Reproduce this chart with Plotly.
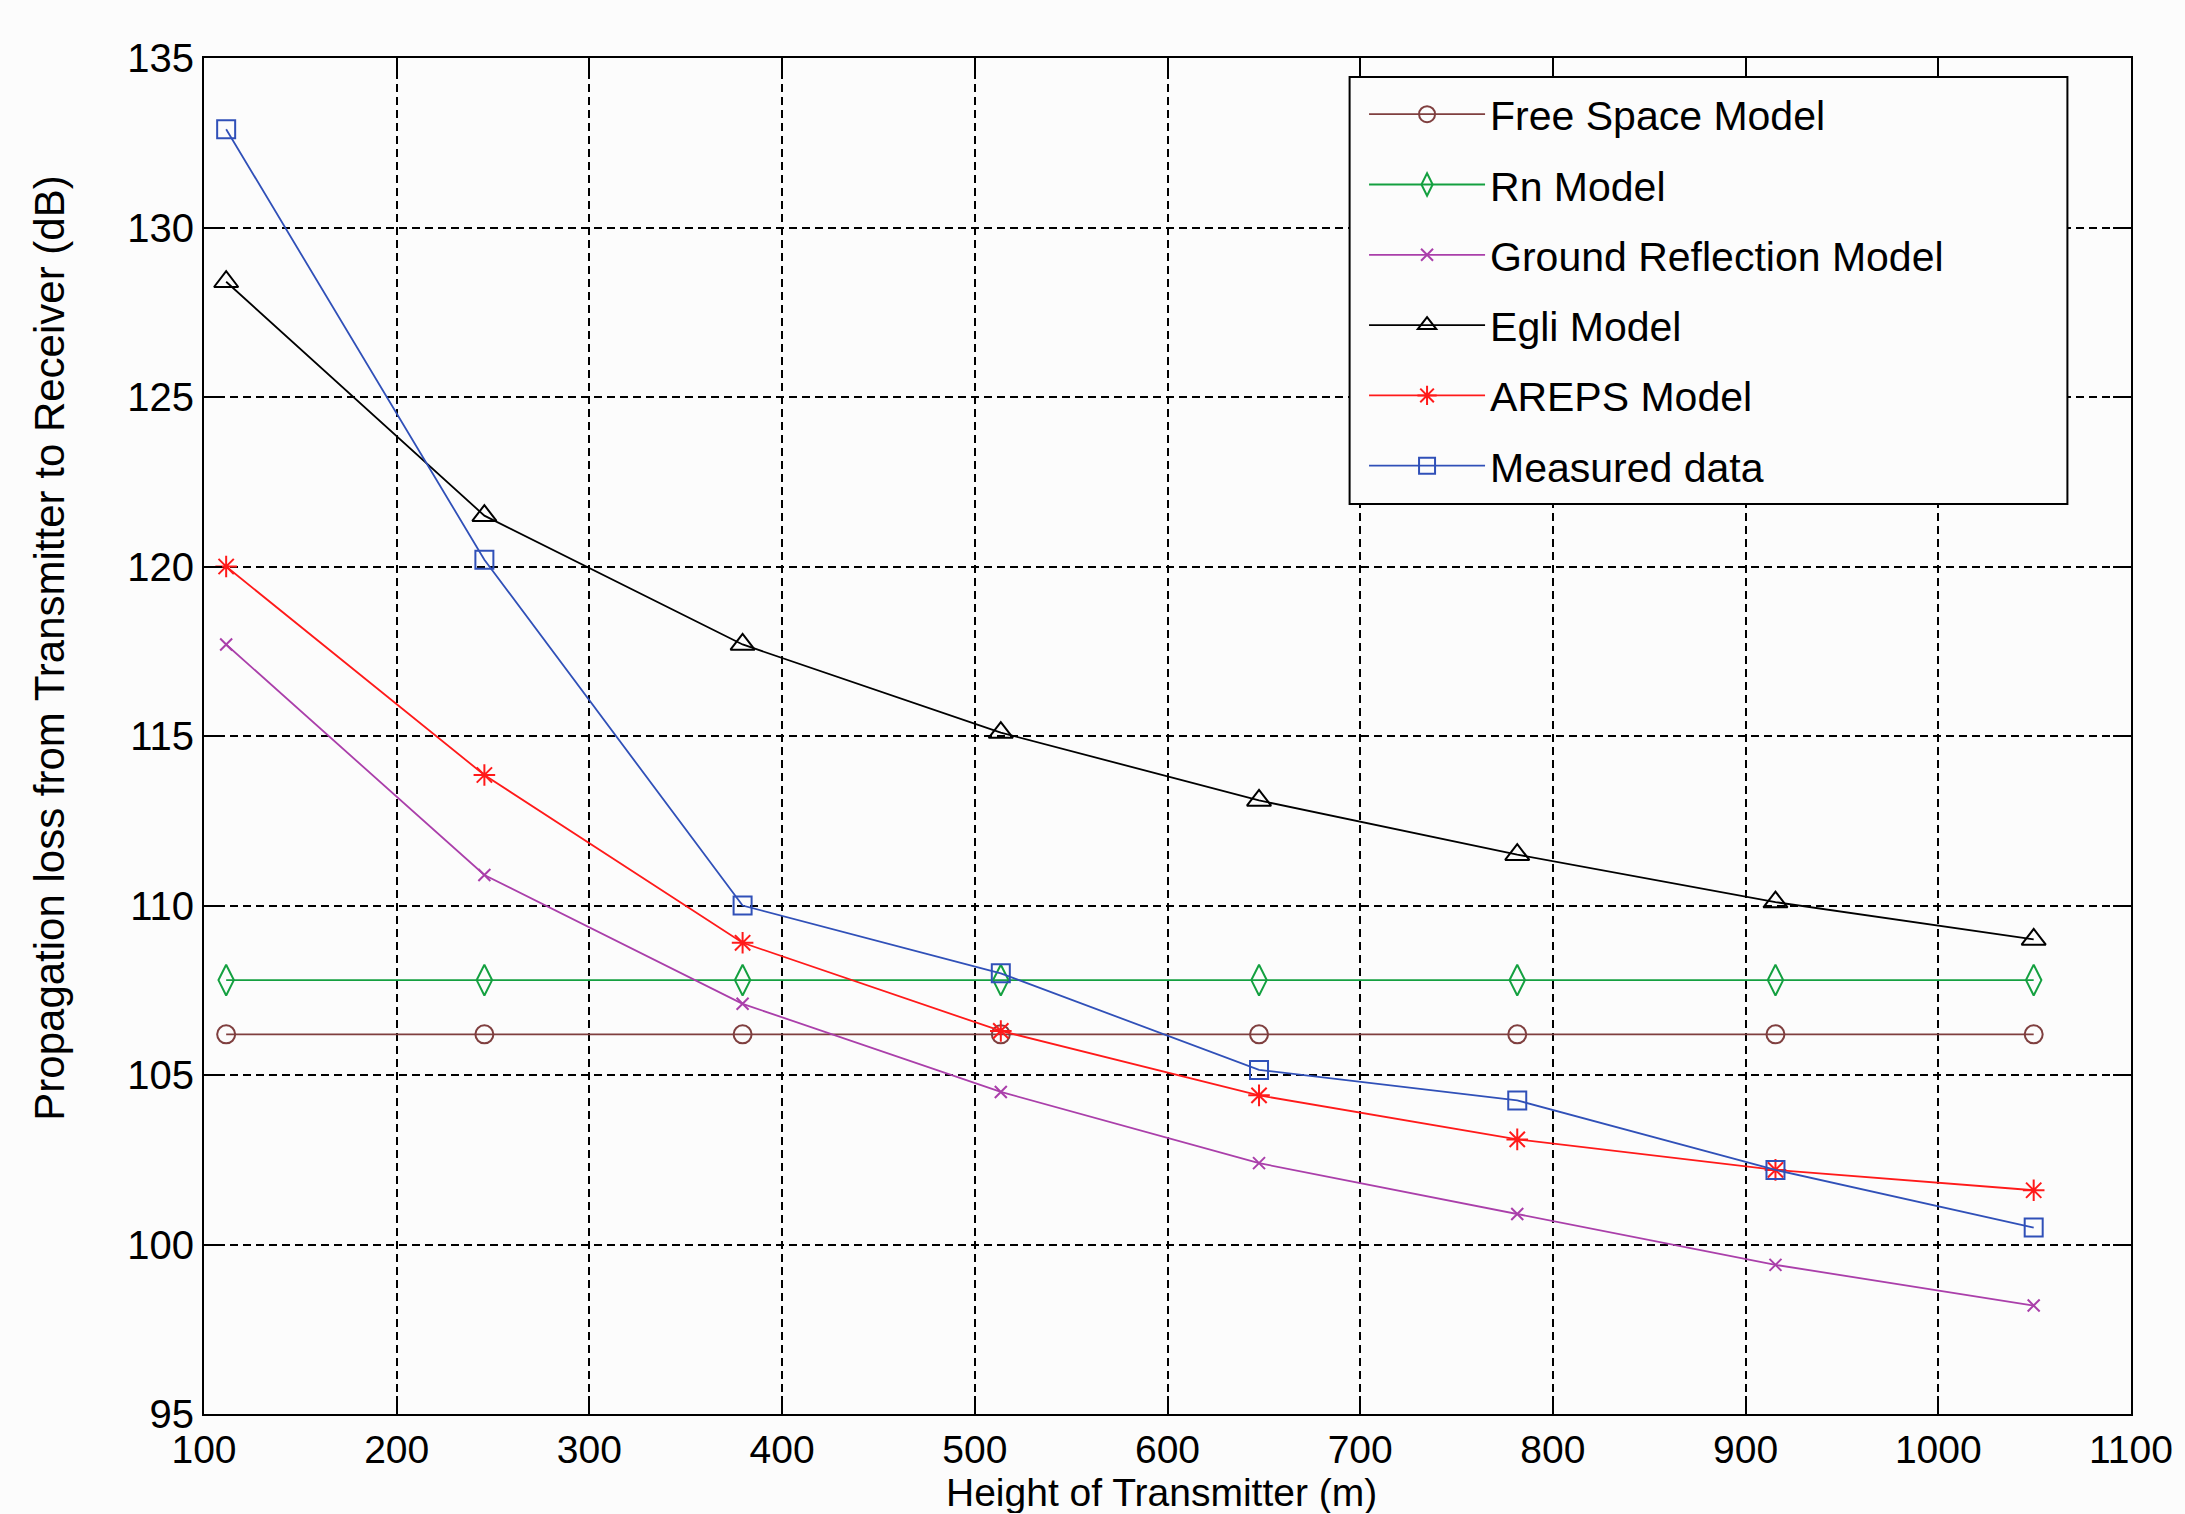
import plotly.graph_objects as go

# ---- data ----
heights = [111.5, 245.5, 379.5, 513.5, 647.5, 781.5, 915.5, 1049.5]
free_space = [106.2, 106.2, 106.2, 106.2, 106.2, 106.2, 106.2, 106.2]
rn_model = [107.8, 107.8, 107.8, 107.8, 107.8, 107.8, 107.8, 107.8]
ground_reflection = [117.7, 110.9, 107.1, 104.5, 102.4, 100.9, 99.4, 98.2]
egli = [128.4, 121.5, 117.7, 115.1, 113.1, 111.5, 110.1, 109.0]
areps = [120.0, 113.85, 108.9, 106.3, 104.4, 103.1, 102.2, 101.6]
measured = [132.9, 120.2, 110.0, 108.0, 105.15, 104.25, 102.2, 100.5]

series_names = ["Free Space Model", "Rn Model", "Ground Reflection Model",
                "Egli Model", "AREPS Model", "Measured data"]
series_values = [free_space, rn_model, ground_reflection, egli, areps, measured]
colors = ["#7f3f3f", "#14a040", "#aa3faa", "#000000", "#ff1a1a", "#3050b8"]
symbols = ["circle-open", "diamond-tall-open", "x-thin-open", "triangle-up-open",
           "asterisk-open", "square-open"]
sizes = [18, 22, 12, 21, 18, 18]

x_ticks = [100, 200, 300, 400, 500, 600, 700, 800, 900, 1000, 1100]
y_ticks = [95, 100, 105, 110, 115, 120, 125, 130, 135]

FONT = "Liberation Sans, Arial, sans-serif"

fig = go.Figure()
for i, (name, vals) in enumerate(zip(series_names, series_values)):
    fig.add_trace(go.Scatter(
        x=heights, y=vals, name=name, mode="lines+markers",
        legendgroup=f"g{i}",
        line=dict(color=colors[i], width=1.8),
        marker=dict(symbol=symbols[i], size=sizes[i], color=colors[i],
                    line=dict(color=colors[i], width=2)),
    ))

axis_common = dict(
    showline=True, linecolor="black", linewidth=2, mirror="ticks",
    ticks="inside", ticklen=18, tickwidth=2, tickcolor="black",
    showgrid=True, gridcolor="black", gridwidth=2, griddash="8px,5px",
    zeroline=False,
)

fig.update_xaxes(range=[100, 1100], tickvals=x_ticks,
                 ticktext=[str(v) for v in x_ticks],
                 tickfont=dict(family=FONT, size=39, color="black"), **axis_common)
fig.update_yaxes(range=[95, 135], tickvals=y_ticks,
                 ticktext=[str(v) for v in y_ticks],
                 tickfont=dict(family=FONT, size=40, color="black"), **axis_common)

# legend frame (plot-area fractions)
fig.add_shape(type="rect", xref="paper", yref="paper",
              x0=0.5945, x1=0.967, y0=0.671, y1=0.986,
              line=dict(color="black", width=2), fillcolor="#fcfcfc",
              layer="above")

fig.update_layout(
    width=2185, height=1514,
    margin=dict(l=204, r=47, t=58, b=100),
    paper_bgcolor="#fcfcfc", plot_bgcolor="#fcfcfc",
    font=dict(family=FONT, color="black"),
    showlegend=True,
    legend=dict(
        x=0.602, y=0.983, xanchor="left", yanchor="top",
        bgcolor="rgba(0,0,0,0)", borderwidth=0,
        font=dict(family=FONT, size=41, color="black"),
        tracegroupgap=14, itemwidth=116,
    ),
    annotations=[
        dict(text="Height of Transmitter (m)", xref="paper", yref="paper",
             x=0.497, y=-0.0735, xanchor="center", yanchor="bottom",
             height=42, valign="middle", borderpad=0,
             showarrow=False, font=dict(family=FONT, size=39, color="black")),
        dict(text="Propagation loss from Transmitter to Receiver (dB)",
             xref="paper", yref="paper", x=-0.080, y=0.565,
             xanchor="center", yanchor="middle", textangle=-90,
             showarrow=False, font=dict(family=FONT, size=42, color="black")),
    ],
)

fig.write_html("out.html")
